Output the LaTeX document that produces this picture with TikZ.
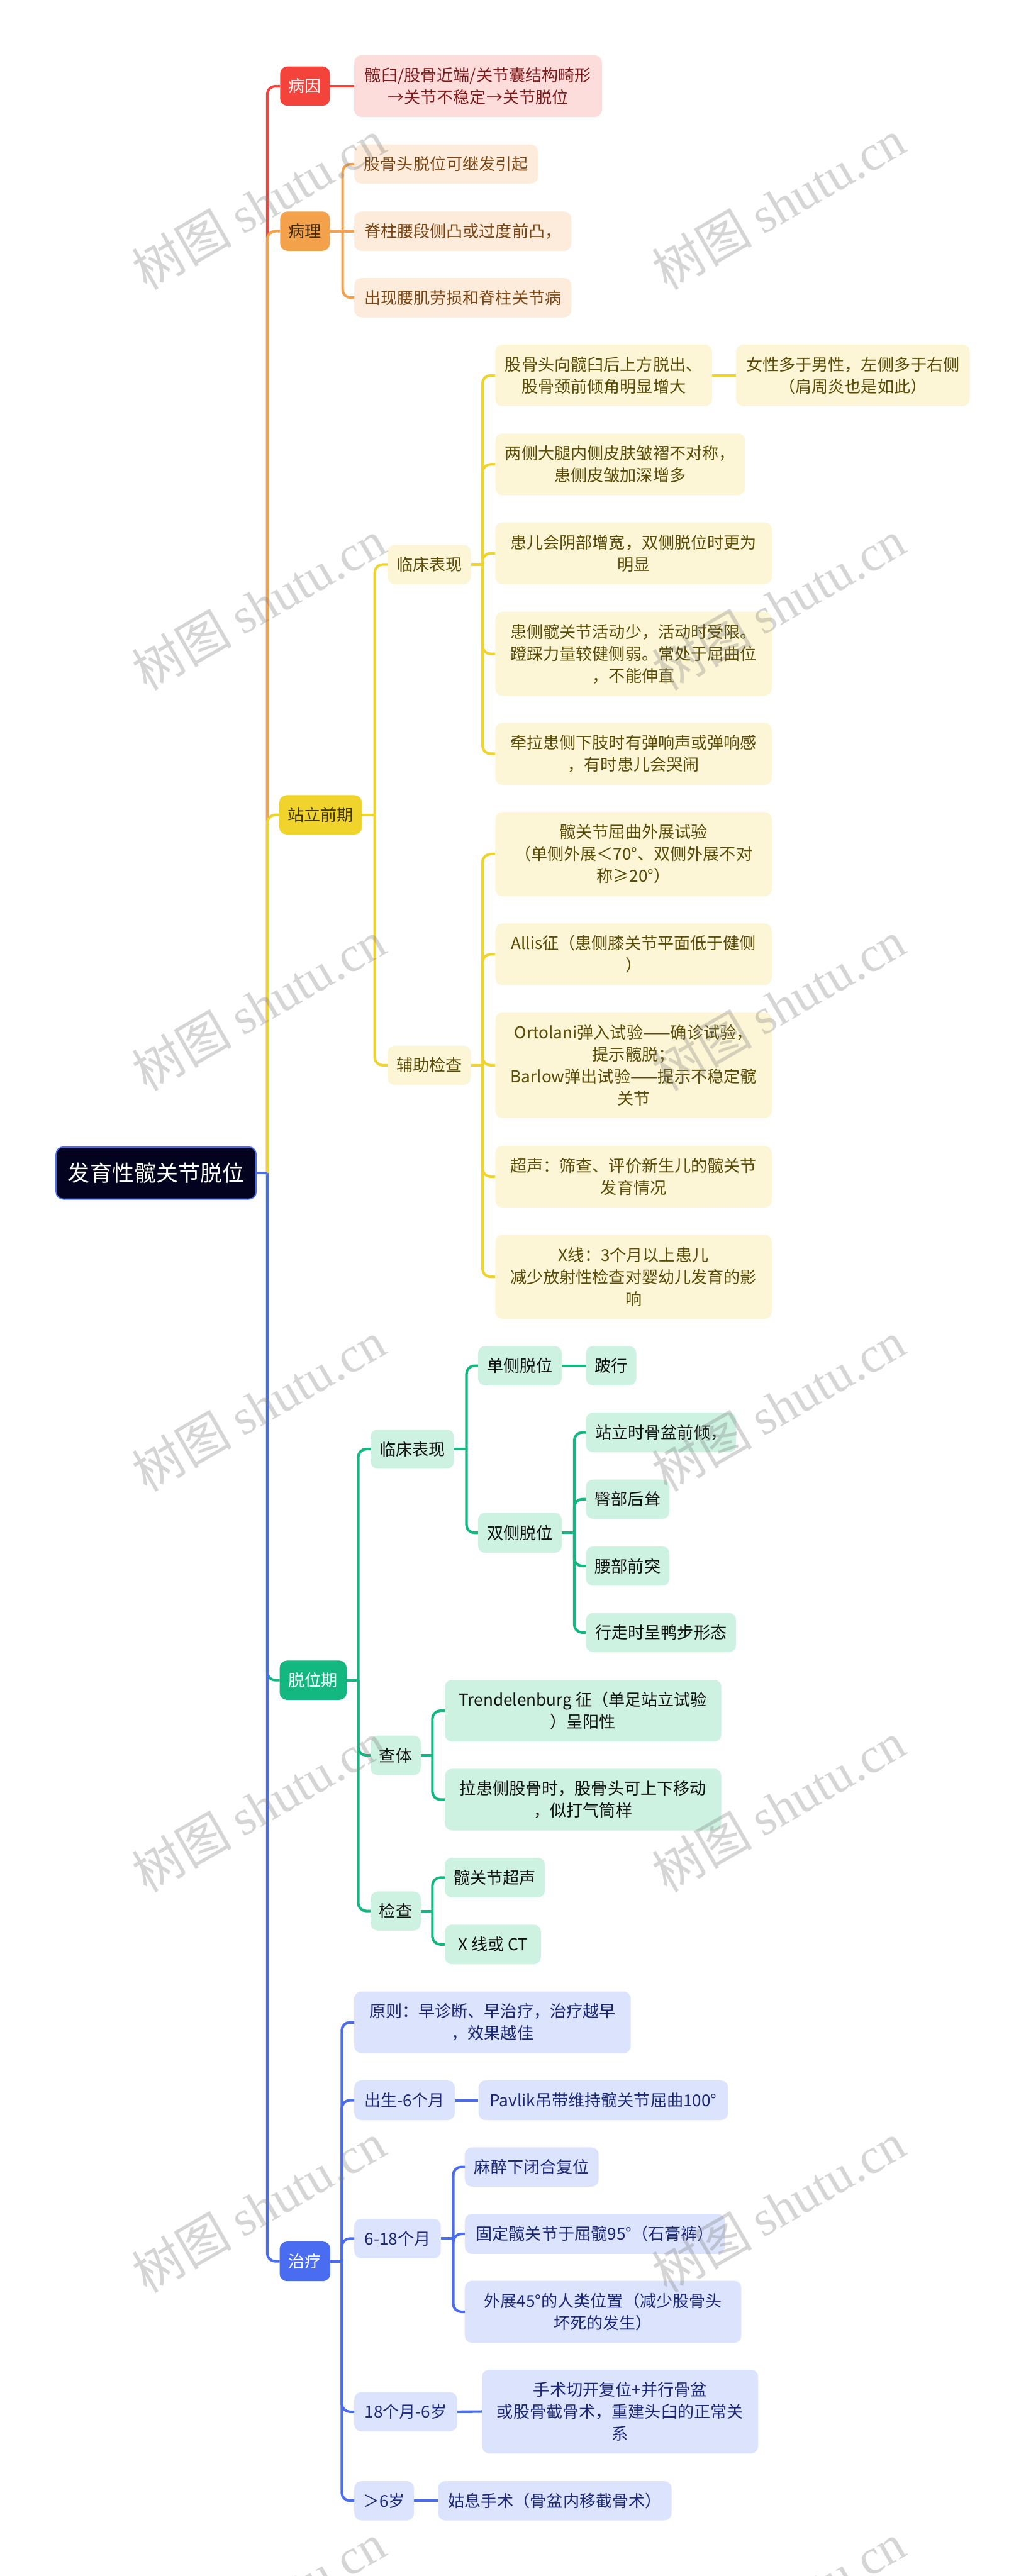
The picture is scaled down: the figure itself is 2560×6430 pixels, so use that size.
\documentclass[tikz,border=0pt]{standalone}
\usepackage{fontspec}
\setmainfont{Noto Sans CJK SC}
\newfontfamily\cjkwm{Noto Sans CJK SC}
\newfontfamily\latwm{Liberation Serif}
\definecolor{cRed}{HTML}{F4433B}
\definecolor{cRedF}{HTML}{FDDCDC}
\definecolor{cRedT}{HTML}{7E1A1A}
\definecolor{cOra}{HTML}{F3A14B}
\definecolor{cOraF}{HTML}{FDEBDB}
\definecolor{cOraT}{HTML}{7A4512}
\definecolor{cOraD}{HTML}{3D2A10}
\definecolor{cYel}{HTML}{F0D32B}
\definecolor{cYelF}{HTML}{FCF6D6}
\definecolor{cYelT}{HTML}{5A4B05}
\definecolor{cGrn}{HTML}{12B87F}
\definecolor{cGrnF}{HTML}{CDF2E2}
\definecolor{cGrnT}{HTML}{111111}
\definecolor{cBlu}{HTML}{4A6CF0}
\definecolor{cBluF}{HTML}{DCE3FD}
\definecolor{cBluT}{HTML}{1B2878}
\definecolor{cRoot}{HTML}{03031F}
\newcommand{\mybx}[7]{\node[#2, minimum width={#4-#3}, minimum height={#6-#5}] (#1) at ({(#3+#4)/2},{(#5+#6)/2}) {#7};}
\tikzset{
  boxst/.style={rounded corners=18pt, inner sep=0pt, align=center, font=\fontsize{41}{55}\selectfont},
  rootst/.style={boxst, fill=cRoot, draw=cBlu, line width=3pt, text=white, font=\fontsize{55}{66}\selectfont},
  lone/.style={boxst},
  lred/.style={boxst, fill=cRedF, text=cRedT},
  lora/.style={boxst, fill=cOraF, text=cOraT},
  lyel/.style={boxst, fill=cYelF, text=cYelT},
  lgrn/.style={boxst, fill=cGrnF, text=cGrnT},
  lblu/.style={boxst, fill=cBluF, text=cBluT},
  br/.style={line width=6.5pt, rounded corners=20pt, line join=round},
  wm/.style={rotate=30, text=gray, opacity=0.33, font=\fontsize{125}{125}\selectfont, inner sep=0pt}
}
\begin{document}
\begin{tikzpicture}[x=1pt,y=-1pt]
\useasboundingbox (0,0) rectangle (2560,6430);
\fill[white] (0,0) rectangle (2560,6430);
% ---------- nodes ----------
\mybx{root}{rootst}{140}{639}{2863}{2993}{发育性髋关节脱位}
\mybx{yin}{lone, fill=cRed, text=white}{699}{823}{166}{264}{病因}
\mybx{li}{lone, fill=cOra, text=cOraD}{699}{823}{528}{626}{病理}
\mybx{zl}{lone, fill=cYel, text=cYelT!70!black}{697}{903}{1985}{2083}{站立前期}
\mybx{tw}{lone, fill=cGrn, text=white}{698}{865}{4145}{4243}{脱位期}
\mybx{zt}{lone, fill=cBlu, text=white}{698}{824}{5595}{5694}{治疗}
% red
\mybx{cause}{lred}{884}{1502}{138}{292}{髋臼/股骨近端/关节囊结构畸形\\→关节不稳定→关节脱位}
% orange
\mybx{pa}{lora}{884}{1343}{361}{458}{股骨头脱位可继发引起}
\mybx{pb}{lora}{884}{1426}{528}{626}{脊柱腰段侧凸或过度前凸，}
\mybx{pc}{lora}{884}{1426}{694}{792}{出现腰肌劳损和脊柱关节病}
% yellow
\mybx{ylc}{lyel}{967}{1175}{1360}{1458}{临床表现}
\mybx{ya}{lyel}{1236}{1777}{860}{1014}{股骨头向髋臼后上方脱出、\\股骨颈前倾角明显增大}
\mybx{yb}{lyel}{1837}{2420}{860}{1014}{女性多于男性，左侧多于右侧\\（肩周炎也是如此）}
\mybx{yc}{lyel}{1236}{1859}{1082}{1236}{两侧大腿内侧皮肤皱褶不对称，\\患侧皮皱加深增多}
\mybx{yd}{lyel}{1236}{1926}{1304}{1458}{患儿会阴部增宽，双侧脱位时更为\\明显}
\mybx{ye}{lyel}{1236}{1926}{1527}{1737}{患侧髋关节活动少，活动时受限。\\蹬踩力量较健侧弱。常处于屈曲位\\，不能伸直}
\mybx{yf}{lyel}{1236}{1926}{1804}{1959}{牵拉患侧下肢时有弹响声或弹响感\\，有时患儿会哭闹}
\mybx{yfz}{lyel}{967}{1175}{2610}{2708}{辅助检查}
\mybx{yg}{lyel}{1236}{1926}{2027}{2237}{髋关节屈曲外展试验\\（单侧外展＜70°、双侧外展不对\\称≥20°）}
\mybx{yh}{lyel}{1236}{1926}{2305}{2459}{Allis征（患侧膝关节平面低于健侧\\）}
\mybx{yi}{lyel}{1236}{1926}{2527}{2791}{Ortolani弹入试验——确诊试验，\\提示髋脱；\\Barlow弹出试验——提示不稳定髋\\关节}
\mybx{yj}{lyel}{1236}{1926}{2860}{3014}{超声：筛查、评价新生儿的髋关节\\发育情况}
\mybx{yk}{lyel}{1236}{1926}{3082}{3292}{X线：3个月以上患儿\\减少放射性检查对婴幼儿发育的影\\响}
% green
\mybx{glc}{lgrn}{925}{1133}{3568}{3666}{临床表现}
\mybx{gdc}{lgrn}{1193}{1402}{3360}{3458}{单侧脱位}
\mybx{gbx}{lgrn}{1462}{1588}{3360}{3458}{跛行}
\mybx{gsc}{lgrn}{1193}{1402}{3776}{3876}{双侧脱位}
\mybx{gs1}{lgrn}{1462}{1837}{3526}{3625}{站立时骨盆前倾，}
\mybx{gs2}{lgrn}{1462}{1671}{3693}{3791}{臀部后耸}
\mybx{gs3}{lgrn}{1462}{1671}{3860}{3958}{腰部前突}
\mybx{gs4}{lgrn}{1462}{1837}{4026}{4124}{行走时呈鸭步形态}
\mybx{gct}{lgrn}{925}{1050}{4332}{4431}{查体}
\mybx{gtr}{lgrn}{1110}{1800}{4193}{4347}{Trendelenburg 征（单足站立试验\\）呈阳性}
\mybx{glh}{lgrn}{1110}{1800}{4415}{4569}{拉患侧股骨时，股骨头可上下移动\\，似打气筒样}
\mybx{gjc}{lgrn}{925}{1050}{4721}{4819}{检查}
\mybx{gus}{lgrn}{1110}{1360}{4637}{4736}{髋关节超声}
\mybx{gxc}{lgrn}{1110}{1350}{4804}{4903}{X 线或 CT}
% blue
\mybx{ba}{lblu}{884}{1574}{4971}{5125}{原则：早诊断、早治疗，治疗越早\\，效果越佳}
\mybx{bb}{lblu}{884}{1135}{5193}{5292}{出生-6个月}
\mybx{bpv}{lblu}{1194}{1817}{5193}{5292}{Pavlik吊带维持髋关节屈曲100°}
\mybx{bc}{lblu}{884}{1100}{5538}{5637}{6-18个月}
\mybx{bmz}{lblu}{1160}{1494}{5360}{5458}{麻醉下闭合复位}
\mybx{bgd}{lblu}{1160}{1809}{5526}{5626}{固定髋关节于屈髋95°（石膏裤）}
\mybx{bwz}{lblu}{1160}{1850}{5693}{5848}{外展45°的人类位置（减少股骨头\\坏死的发生）}
\mybx{bd}{lblu}{884}{1141}{5971}{6069}{18个月-6岁}
\mybx{bss}{lblu}{1203}{1892}{5915}{6124}{手术切开复位+并行骨盆\\或股骨截骨术，重建头臼的正常关\\系}
\mybx{be}{lblu}{884}{1033}{6193}{6291}{＞6岁}
\mybx{bgx}{lblu}{1093}{1676}{6193}{6291}{姑息手术（骨盆内移截骨术）}
% ---------- branch points ----------
\coordinate (T) at (667,2928);
\coordinate (liB) at (855,577);
\coordinate (zlB) at (935,2034);
\coordinate (ylcB) at (1204,1409);
\coordinate (yfzB) at (1204,2659);
\coordinate (twB) at (894,4194);
\coordinate (glcB) at (1164,3617);
\coordinate (gscB) at (1433,3826);
\coordinate (gctB) at (1079,4381.5);
\coordinate (gjcB) at (1079,4770);
\coordinate (ztB) at (853,5644.5);
\coordinate (bcB) at (1131,5587.5);
% ---------- connectors ----------
\draw[br, cRed] (T) |- (yin.west);
\draw[br, cRed] (yin.east) -- (cause.west);
\draw[br, cOra] (T) |- (li.west);
\draw[br, cOra] (li.east) -- (liB);
\draw[br, cOra] (liB) |- (pa.west);
\draw[br, cOra] (li.east) -- (pb.west);
\draw[br, cOra] (liB) |- (pc.west);
\draw[br, cYel] (T) |- (zl.west);
\draw[br, cYel] (zl.east) -- (zlB);
\draw[br, cYel] (zlB) |- (ylc.west);
\draw[br, cYel] (zlB) |- (yfz.west);
\draw[br, cYel] (ylc.east) -- (ylcB);
\foreach \c in {ya,yc,yd,ye,yf} \draw[br, cYel] (ylcB) |- (\c.west);
\draw[br, cYel] (ya.east) -- (yb.west);
\draw[br, cYel] (yfz.east) -- (yfzB);
\foreach \c in {yg,yh,yi,yj,yk} \draw[br, cYel] (yfzB) |- (\c.west);
\draw[br, cGrn] (T) |- (tw.west);
\draw[br, cGrn] (tw.east) -- (twB);
\foreach \c in {glc,gct,gjc} \draw[br, cGrn] (twB) |- (\c.west);
\draw[br, cGrn] (glc.east) -- (glcB);
\foreach \c in {gdc,gsc} \draw[br, cGrn] (glcB) |- (\c.west);
\draw[br, cGrn] (gdc.east) -- (gbx.west);
\draw[br, cGrn] (gsc.east) -- (gscB);
\foreach \c in {gs1,gs2,gs3,gs4} \draw[br, cGrn] (gscB) |- (\c.west);
\draw[br, cGrn] (gct.east) -- (gctB);
\foreach \c in {gtr,glh} \draw[br, cGrn] (gctB) |- (\c.west);
\draw[br, cGrn] (gjc.east) -- (gjcB);
\foreach \c in {gus,gxc} \draw[br, cGrn] (gjcB) |- (\c.west);
\draw[br, cBlu] (T) |- (zt.west);
\draw[br, cBlu] (zt.east) -- (ztB);
\foreach \c in {ba,bb,bc,bd,be} \draw[br, cBlu] (ztB) |- (\c.west);
\draw[br, cBlu] (bb.east) -- (bpv.west);
\draw[br, cBlu] (bc.east) -- (bcB);
\foreach \c in {bmz,bgd,bwz} \draw[br, cBlu] (bcB) |- (\c.west);
\draw[br, cBlu] (bd.east) -- (bss.west);
\draw[br, cBlu] (be.east) -- (bgx.west);
\draw[br, cBlu] (root.east) -- (T);
% ---------- watermark ----------
\begin{scope}
\clip (0,0) rectangle (2560,6430);
\foreach \wx in {645,1943}
  \foreach \wy in {510,1510,2510,3510,4510,5510,6510}
    \node[wm] (wm-\wx-\wy) at (\wx,\wy) {\cjkwm 树图 \latwm shutu.cn};
\end{scope}
\end{tikzpicture}
\end{document}
